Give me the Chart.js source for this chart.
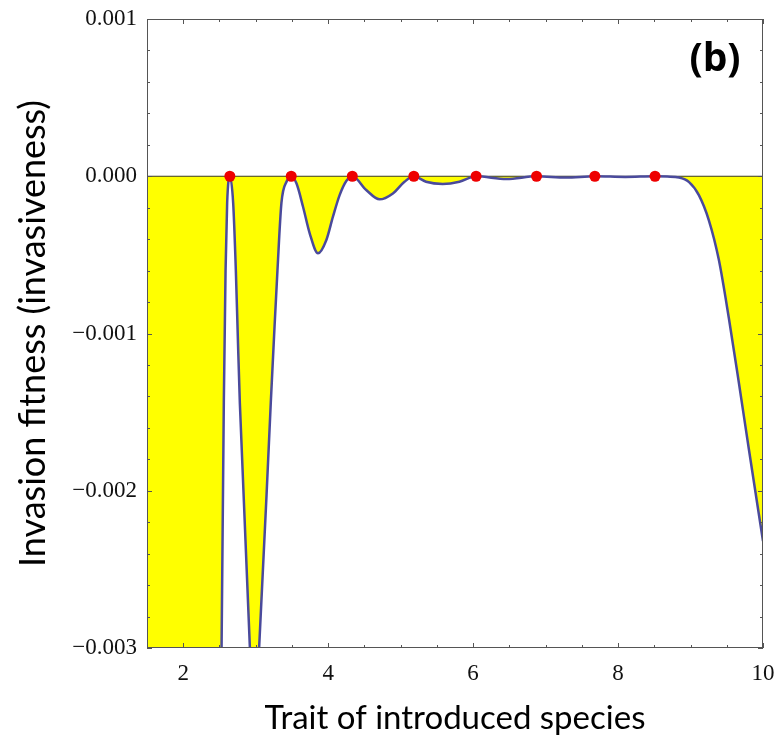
<!DOCTYPE html>
<html>
<head>
<meta charset="utf-8">
<script src="https://cdn.jsdelivr.net/npm/chart.js@4"></script>
<style>
  html, body { margin: 0; padding: 0; background: #fff; }
  #wrap { width: 780px; height: 744px; }
</style>
</head>
<body>
<div id="wrap"><canvas id="miCanvas" width="780" height="744"></canvas></div>
<script>
// trait values and invasion fitness
const traitX = [1.5, 2.0, 2.3, 2.45, 2.529, 2.56, 2.584, 2.606, 2.643, 2.689, 2.726, 2.753, 2.781, 2.919, 2.98,
  3.047, 3.208, 3.253, 3.30, 3.355, 3.43, 3.49, 3.562, 3.653, 3.745, 3.86, 3.975, 4.066, 4.158, 4.25, 4.333,
  4.525, 4.709, 4.893, 5.053, 5.182, 5.35, 5.58, 5.811, 6.041, 6.46, 6.875, 7.28, 7.68, 8.1, 8.51, 8.68,
  8.842, 8.98, 9.115, 9.253, 9.39, 9.528, 9.666, 9.803, 10.0];
const fitness = [-0.03, -0.02, -0.012, -0.006, -0.003, -0.00144, -0.0006, -0.00017, 0, -0.00017, -0.0006, -0.00102, -0.00144, -0.00299, -0.0034,
  -0.003, -0.00144, -0.00102, -0.0006, -0.00017, -0.00003, 0, -0.000045, -0.000194, -0.000363, -0.00049, -0.000405, -0.000257, -0.00012, -0.00003, 0,
  -0.0000875, -0.000147, -0.000109, -0.000035, 0, -0.000035, -0.000049, -0.000035, 0, -0.000018, 0, -0.000008, 0, -0.000004, 0, -0.000002,
  -0.000008, -0.000037, -0.00012, -0.00028, -0.00053, -0.0009, -0.00131, -0.00173, -0.00232];

// singular points (red dots)
const dotX = [2.643, 3.49, 4.333, 5.182, 6.041, 6.875, 7.68, 8.51];
const dotY = [0, 0, 0, 0, 0, 0, 0, 0];

// tick values
const xTicks = [2, 4, 6, 8, 10];
const xMinor = [2.5, 3, 3.5, 4.5, 5, 5.5, 6.5, 7, 7.5, 8.5, 9, 9.5];
const yTicks = [0.001, 0, -0.001, -0.002, -0.003];
const yMinor = [0.0008, 0.0006, 0.0004, 0.0002, -0.0002, -0.0004, -0.0006, -0.0008,
  -0.0012, -0.0014, -0.0016, -0.0018, -0.0022, -0.0024, -0.0026, -0.0028];

const curve = traitX.map((x, i) => ({ x: x, y: fitness[i] }));
const dots = dotX.map((x, i) => ({ x: x, y: dotY[i] }));
const zero = [{ x: 1.5, y: 0 }, { x: 10, y: 0 }];

// marco y marcas hacia dentro (estilo Mathematica)
const marcoPlugin = {
  id: 'marco',
  afterDatasetsDraw(chart) {
    const { ctx, chartArea: a, scales } = chart;
    const sx = scales.x, sy = scales.y;
    ctx.save();
    ctx.strokeStyle = '#555';
    ctx.lineWidth = 1;
    ctx.strokeRect(a.left + 0.5, a.top + 0.5, a.right - a.left - 1, a.bottom - a.top - 1);
    ctx.beginPath();
    const tick = (vals, len) => {
      vals.forEach(v => {
        const px = Math.round(sx.getPixelForValue(v)) + 0.5;
        ctx.moveTo(px, a.bottom); ctx.lineTo(px, a.bottom - len);
        ctx.moveTo(px, a.top); ctx.lineTo(px, a.top + len);
      });
    };
    const tickY = (vals, len) => {
      vals.forEach(v => {
        const py = Math.round(sy.getPixelForValue(v)) + 0.5;
        ctx.moveTo(a.left, py); ctx.lineTo(a.left + len, py);
        ctx.moveTo(a.right, py); ctx.lineTo(a.right - len, py);
      });
    };
    tick(xTicks, 5); tick(xMinor, 3);
    tickY(yTicks, 5); tickY(yMinor, 3);
    ctx.stroke();

    ctx.fillStyle = '#000';
    ctx.font = 'bold 39px "Open Sans"';
    ctx.textAlign = 'center';
    ctx.textBaseline = 'middle';
    ctx.fillText('(b)', 715, 60);
    ctx.restore();
  }
};

const ctx = document.getElementById('miCanvas');
const myChart = new Chart(ctx, {
  type: 'scatter',
  data: {
    datasets: [
      {
        label: 'singular',
        data: dots,
        showLine: false,
        pointRadius: 5.5,
        pointBackgroundColor: '#ee0000',
        pointBorderWidth: 0,
        order: 0
      },
      {
        label: 'fitness',
        data: curve,
        showLine: true,
        cubicInterpolationMode: 'monotone',
        borderColor: '#4a4a9c',
        borderWidth: 2.5,
        pointRadius: 0,
        fill: 'origin',
        backgroundColor: '#ffff00',
        order: 1
      },
      {
        label: 'zero',
        data: zero,
        showLine: true,
        borderColor: '#3a3a20',
        borderWidth: 1,
        pointRadius: 0,
        order: 2
      }
    ]
  },
  options: {
    responsive: false,
    animation: false,
    events: [],
    layout: { padding: { left: 0, right: 17, top: 19, bottom: 0 } },
    plugins: {
      legend: { display: false },
      tooltip: { enabled: false },
      filler: { drawTime: 'beforeDatasetsDraw' }
    },
    scales: {
      x: {
        type: 'linear',
        min: 1.5,
        max: 10,
        afterBuildTicks: (s) => { s.ticks = xTicks.map(v => ({ value: v })); },
        afterFit: (s) => { s.height = 96; s.paddingLeft = 0; s.paddingRight = 0; },
        grid: { display: false, drawTicks: false },
        border: { display: false },
        ticks: {
          padding: 12,
          color: '#111',
          font: { family: '"Liberation Serif"', size: 23 },
          callback: (v) => String(v)
        },
        title: {
          display: true,
          text: 'Trait of introduced species',
          color: '#000',
          font: { family: 'Lato', size: 33 },
          padding: { top: 0, bottom: 6 }
        }
      },
      y: {
        min: -0.003,
        max: 0.001,
        afterBuildTicks: (s) => { s.ticks = yTicks.map(v => ({ value: v })); },
        afterFit: (s) => { s.width = 147; s.paddingTop = 0; s.paddingBottom = 0; },
        grid: { display: false, drawTicks: false },
        border: { display: false },
        ticks: {
          padding: 10,
          color: '#111',
          font: { family: '"Liberation Serif"', size: 23 },
          callback: (v) => (v < 0 ? '\u2212' : '') + Math.abs(v).toFixed(3)
        },
        title: {
          display: true,
          text: 'Invasion fitness (invasiveness)',
          color: '#000',
          font: { family: 'Lato', size: 36 },
          padding: { top: 12, bottom: 0 }
        }
      }
    }
  },
  plugins: [marcoPlugin]
});
</script>
</body>
</html>
